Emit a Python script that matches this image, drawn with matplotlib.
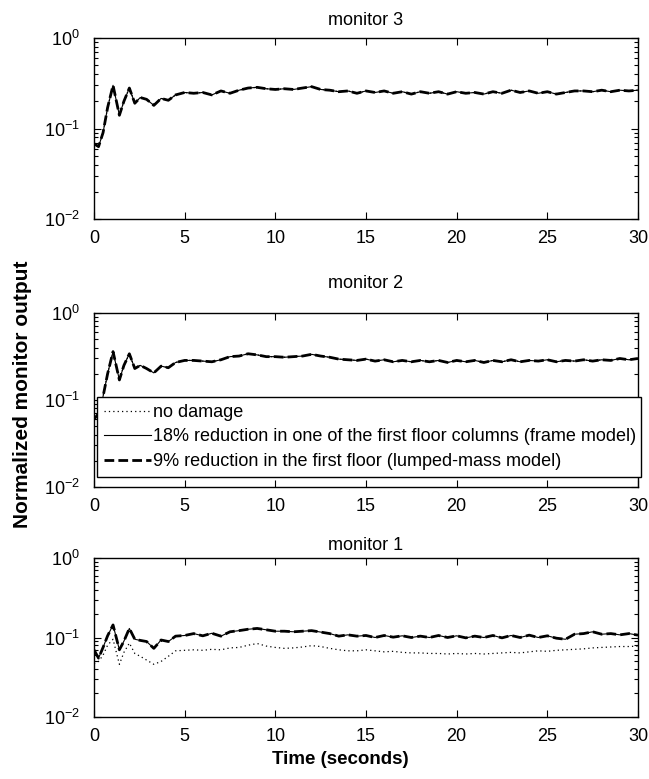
import numpy as np
import matplotlib
matplotlib.use("Agg")
import matplotlib.pyplot as plt

plt.rcParams['font.family'] = ['Liberation Sans', 'DejaVu Sans']
plt.rcParams['mathtext.fontset'] = 'custom'
plt.rcParams['mathtext.rm'] = 'Liberation Sans'

# --- dati ---
t_early = [0, 0.25, 0.5, 0.75, 1.05, 1.4, 1.65, 1.95, 2.25, 2.55, 2.9, 3.3, 3.7, 4.1, 4.5]
t_late = list(np.arange(5.0, 30.01, 0.5))
tempo = np.array(t_early + t_late)

mon3 = [0.068, 0.063, 0.09, 0.17, 0.30, 0.14, 0.20, 0.28, 0.19, 0.22, 0.21, 0.18, 0.215, 0.205, 0.235,
        0.25, 0.245, 0.25, 0.235, 0.26, 0.245, 0.265, 0.28, 0.285, 0.275,
        0.27, 0.275, 0.27, 0.28, 0.29, 0.27, 0.265, 0.255, 0.26, 0.245,
        0.26, 0.25, 0.26, 0.245, 0.255, 0.24, 0.255, 0.245, 0.255, 0.24,
        0.255, 0.245, 0.25, 0.24, 0.255, 0.245, 0.265, 0.25, 0.26, 0.245,
        0.255, 0.24, 0.25, 0.26, 0.26, 0.255, 0.265, 0.255, 0.265, 0.26, 0.265]

mon2 = [0.06, 0.07, 0.11, 0.20, 0.36, 0.17, 0.25, 0.34, 0.23, 0.25, 0.23, 0.205, 0.245, 0.235, 0.27,
        0.285, 0.285, 0.28, 0.275, 0.29, 0.315, 0.32, 0.34, 0.33, 0.315,
        0.315, 0.31, 0.315, 0.32, 0.335, 0.32, 0.31, 0.295, 0.29, 0.285,
        0.295, 0.28, 0.29, 0.275, 0.285, 0.275, 0.285, 0.275, 0.285, 0.27,
        0.285, 0.275, 0.285, 0.27, 0.285, 0.275, 0.29, 0.275, 0.285, 0.28,
        0.29, 0.275, 0.285, 0.28, 0.29, 0.28, 0.29, 0.285, 0.30, 0.29, 0.30]

mon1_danno = [0.07, 0.055, 0.075, 0.105, 0.144, 0.07, 0.09, 0.13, 0.095, 0.092, 0.089, 0.073, 0.093, 0.089, 0.104,
              0.106, 0.112, 0.105, 0.113, 0.104, 0.118, 0.122, 0.127, 0.13, 0.125,
              0.12, 0.12, 0.118, 0.12, 0.122, 0.117, 0.112, 0.104, 0.108, 0.104,
              0.106, 0.10, 0.106, 0.101, 0.105, 0.10, 0.104, 0.10, 0.106, 0.10,
              0.105, 0.099, 0.104, 0.10, 0.106, 0.099, 0.106, 0.10, 0.107, 0.10,
              0.105, 0.098, 0.095, 0.11, 0.112, 0.118, 0.11, 0.112, 0.108, 0.112, 0.107]

mon1_sano = [0.047, 0.05, 0.06, 0.08, 0.095, 0.046, 0.065, 0.085, 0.063, 0.058, 0.052, 0.046, 0.05, 0.058, 0.068,
             0.069, 0.07, 0.069, 0.071, 0.07, 0.074, 0.075, 0.08, 0.084, 0.078,
             0.075, 0.073, 0.074, 0.076, 0.079, 0.077, 0.073, 0.07, 0.068, 0.068,
             0.07, 0.068, 0.066, 0.067, 0.065, 0.064, 0.064, 0.063, 0.063, 0.062,
             0.063, 0.062, 0.063, 0.062, 0.063, 0.064, 0.065, 0.064, 0.066, 0.068,
             0.067, 0.069, 0.07, 0.071, 0.072, 0.074, 0.075, 0.076, 0.077, 0.077, 0.078]

titoli = ["monitor 3", "monitor 2", "monitor 1"]
etichette = ["no damage",
             "18% reduction in one of the first floor columns (frame model)",
             "9% reduction in the first floor (lumped-mass model)"]

# serie per pannello: (sano, telaio, masse concentrate)
serie = [(mon3, mon3, mon3), (mon2, mon2, mon2), (mon1_sano, mon1_danno, mon1_danno)]

# posizioni degli assi in pixel: (top, bottom)
W, H = 649, 779
box = [(38, 219), (313, 487), (558, 717)]
pad_titolo = [9.5, 18, 6]
left, right = 94, 638

fig = plt.figure(figsize=(W / 100, H / 100), dpi=100)
assi = []
for i, (top, bot) in enumerate(box):
    ax = fig.add_axes([left / W, 1 - bot / H, (right - left) / W, (bot - top) / H])
    sano, telaio, masse = serie[i]
    ax.plot(tempo, sano, color='black', linestyle=(0, (1, 2.5)), linewidth=0.9, label=etichette[0])
    ax.plot(tempo, telaio, color='black', linestyle='-', linewidth=0.8, label=etichette[1])
    ax.plot(tempo, masse, color='black', linestyle=(0, (3.5, 1.5)), linewidth=2.0, label=etichette[2])
    ax.set_yscale('log')
    ax.set_ylim(1e-2, 1e0)
    ax.set_xlim(0, 30)
    ax.set_xticks([0, 5, 10, 15, 20, 25, 30])
    ax.set_yticks([1e-2, 1e-1, 1e0])
    ax.tick_params(which='both', direction='in', top=True, right=True, labelsize=13)
    ax.tick_params(which='major', length=5, width=0.8)
    ax.tick_params(which='minor', length=3, width=0.8)
    ax.tick_params(axis='x', which='major', pad=8)
    ax.tick_params(axis='y', which='major', pad=10)
    for s in ax.spines.values():
        s.set_linewidth(1.0)
    ax.set_title(titoli[i], fontsize=13, pad=pad_titolo[i])
    assi.append(ax)

# legenda sul pannello centrale
leg = assi[1].legend(loc='upper left',
                     bbox_to_anchor=(97 / W, 1 - 477 / H, (641 - 97) / W, 80 / H),
                     bbox_transform=fig.transFigure, mode='expand', borderaxespad=0,
                     fontsize=13, handlelength=2.6, handletextpad=0.1,
                     labelspacing=0.42, borderpad=0.38, fancybox=False,
                     framealpha=1, edgecolor='black')
leg.get_frame().set_linewidth(1.0)

fig.text(23 / W, 1 - 394 / H, "Normalized monitor output", rotation=90,
         ha='center', va='center', fontsize=15, fontweight='bold')
fig.text(340 / W, 1 - 759 / H, "Time (seconds)",
         ha='center', va='center', fontsize=13.5, fontweight='bold')

fig.savefig("out.png", dpi=100)
